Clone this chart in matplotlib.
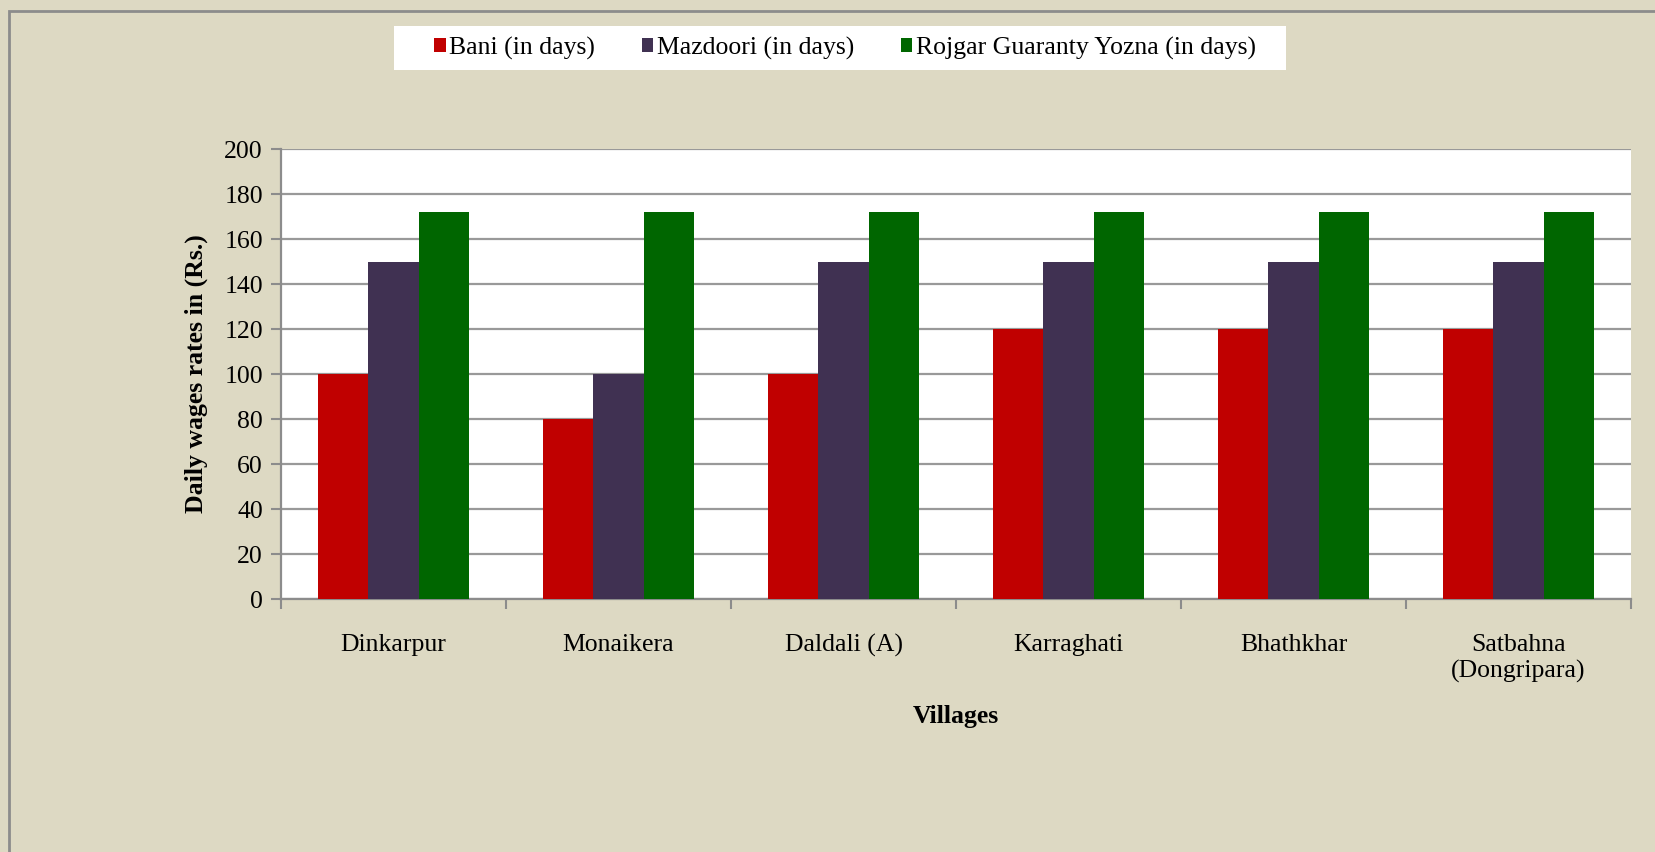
import numpy as np
import matplotlib
matplotlib.use("Agg")
import matplotlib.pyplot as plt
from matplotlib.patches import Rectangle

villages = ["Dinkarpur", "Monaikera", "Daldali (A)", "Karraghati", "Bhathkhar",
            "Satbahna\n(Dongripara)"]
bani = [100, 80, 100, 120, 120, 120]
mazdoori = [150, 100, 150, 150, 150, 150]
rojgar = [172, 172, 172, 172, 172, 172]
series_names = ["Bani (in days)", "Mazdoori (in days)", "Rojgar Guaranty Yozna (in days)"]
series_colors = ["#C00000", "#403152", "#006600"]

plt.rcParams['font.family'] = ['Liberation Serif', 'DejaVu Serif']
fs = 18.5

bg = "#DDD9C3"
W, H = 1656, 852
fig = plt.figure(figsize=(W / 100, H / 100), dpi=100, facecolor=bg)
ax = fig.add_axes([0.1697, 0.2969, 0.8152, 0.5282])

# outer chart border (only top and left visible in the original)
fig.patches.append(Rectangle((9 / W, -0.1), 1.2, 0.1 + (H - 11) / H,
                             transform=fig.transFigure, facecolor="none",
                             edgecolor="#8c8c8c", linewidth=2, zorder=0))
# white legend box
fig.patches.append(Rectangle((394 / W, 1 - 70 / H), (1286 - 394) / W, 44 / H,
                             transform=fig.transFigure, facecolor="white",
                             edgecolor="none", zorder=1))

x = np.arange(len(villages))
w = 0.2225
for i, (vals, name, col) in enumerate(zip([bani, mazdoori, rojgar], series_names, series_colors)):
    ax.bar(x + (i - 1) * w, vals, width=w, color=col, label=name, zorder=3,
           edgecolor="none")

ax.set_xlim(-0.5, len(villages) - 0.5)
ax.set_ylim(0, 200)
ax.set_yticks(range(0, 201, 20))
ax.set_xticks(np.arange(len(villages) + 1) - 0.5, minor=False)
ax.set_xticklabels([])
ax.set_xticks(x, minor=True)
ax.set_xticklabels(villages, minor=True, fontsize=fs, linespacing=1.25)
ax.tick_params(axis="x", which="minor", length=0, pad=25)
ax.tick_params(axis="x", which="major", length=7, width=1.5, color="#8c8c8c")
ax.tick_params(axis="y", length=7, width=1.5, color="#8c8c8c", labelsize=fs, pad=6)

ax.grid(axis="y", color="#999999", linewidth=1.6, zorder=0)
ax.set_axisbelow(True)
for s in ["top", "right"]:
    ax.spines[s].set_visible(False)
for s in ["left", "bottom"]:
    ax.spines[s].set_color("#8c8c8c")
    ax.spines[s].set_linewidth(1.6)

ax.set_ylabel("Daily wages rates in (Rs.)", fontsize=fs, fontweight="bold", labelpad=12)
ax.set_xlabel("Villages", fontsize=fs, fontweight="bold", labelpad=16)

leg = fig.legend(loc="center", bbox_to_anchor=(845 / W, 1 - 48 / H), ncol=3, fontsize=fs,
                 frameon=False, handlelength=0.45, handleheight=0.45, handletextpad=0.15,
                 columnspacing=1.8, borderpad=0.3)
leg.set_zorder(5)

fig.savefig("out.png", dpi=100, facecolor=bg)
